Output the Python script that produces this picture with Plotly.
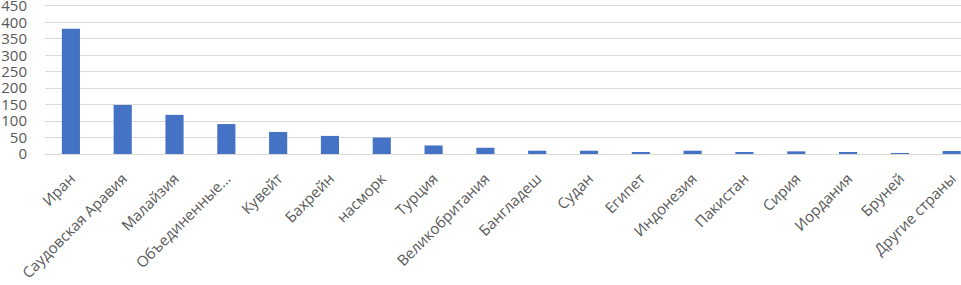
import plotly.graph_objects as go

categories = ["Иран", "Саудовская Аравия", "Малайзия", "Объединенные...", "Кувейт",
              "Бахрейн", "насморк", "Турция", "Великобритания", "Бангладеш", "Судан",
              "Египет", "Индонезия", "Пакистан", "Сирия", "Иордания", "Бруней",
              "Другие страны"]
values = [381, 149, 119, 91, 67, 55, 50, 26, 19, 10, 10, 6, 10, 4, 8, 4, 3, 9]
y_ticks = [0, 50, 100, 150, 200, 250, 300, 350, 400, 450]

fig = go.Figure(go.Bar(
    x=list(range(len(categories))), y=values,
    marker=dict(color="#4472C4", line=dict(width=0)),
    width=0.35,
))

font = "Open Sans, Noto Sans, sans-serif"
fig.update_layout(
    width=961, height=285,
    margin=dict(l=45, r=0, t=0, b=131, autoexpand=False),
    paper_bgcolor="white", plot_bgcolor="white",
    showlegend=False,
    font=dict(family=font, size=15, color="#595959"),
)
fig.update_xaxes(
    tickmode="array", tickvals=list(range(len(categories))), ticktext=categories,
    tickangle=-45, range=[-0.5, 17.18], showgrid=False, zeroline=False,
    showline=False, ticks="", tickfont=dict(size=15, color="#595959"),
    automargin=False, ticklabelstandoff=12,
)
fig.update_yaxes(
    range=[0, 468.2], tickvals=y_ticks, showgrid=True, gridcolor="#D9D9D9",
    gridwidth=1, zeroline=True, zerolinecolor="#D9D9D9", zerolinewidth=1,
    showline=False, ticks="", tickfont=dict(size=15, color="#595959"),
    ticklabelstandoff=17, automargin=False, ticklabeloverflow="allow",
)

fig.write_html("out.html", config={"displayModeBar": False},
               post_script="document.body.style.margin='0';document.body.style.overflow='hidden';")
